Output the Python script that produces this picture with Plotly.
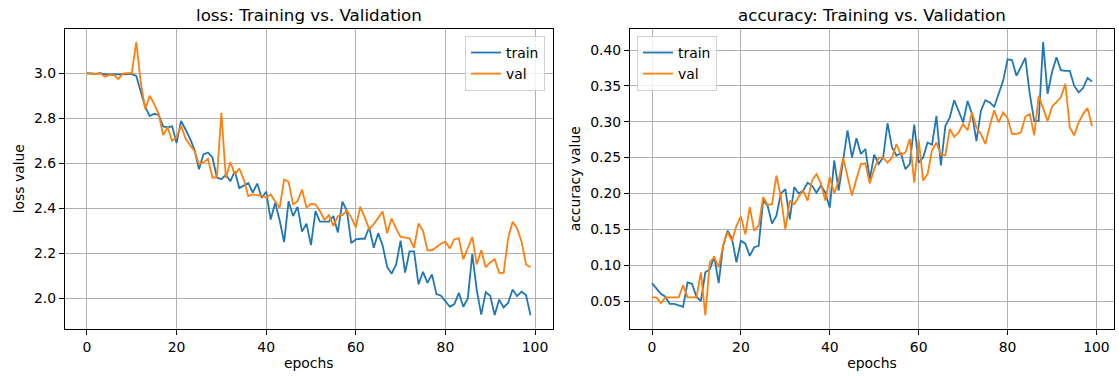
import plotly.graph_objects as go

epochs = list(range(100))

loss_train = [3.0, 2.998, 2.997, 3.0, 2.995, 2.995, 2.994, 2.993, 2.995, 2.996,
              2.996, 2.988, 2.92, 2.85, 2.81, 2.82, 2.815, 2.764, 2.76, 2.764,
              2.69, 2.788, 2.75, 2.71, 2.66, 2.574, 2.64, 2.648, 2.626, 2.537,
              2.53, 2.55, 2.52, 2.565, 2.49, 2.503, 2.513, 2.47, 2.51, 2.447,
              2.474, 2.35, 2.425, 2.347, 2.25, 2.432, 2.366, 2.407, 2.297, 2.332,
              2.237, 2.388, 2.341, 2.341, 2.341, 2.366, 2.293, 2.43, 2.39, 2.246,
              2.262, 2.265, 2.265, 2.316, 2.225, 2.29, 2.235, 2.14, 2.11, 2.151,
              2.257, 2.115, 2.209, 2.209, 2.063, 2.118, 2.069, 2.107, 2.019, 2.012,
              1.985, 1.963, 1.975, 2.025, 1.963, 2.0, 2.198, 2.037, 1.928, 2.028,
              2.012, 1.926, 1.995, 1.96, 1.98, 2.04, 2.01, 2.03, 2.015, 1.925]

loss_val = [3.0, 2.997, 2.997, 3.0, 2.985, 2.993, 2.992, 2.975, 2.998, 3.0,
            3.0, 3.138, 2.96, 2.84, 2.9, 2.863, 2.82, 2.725, 2.76, 2.7,
            2.715, 2.767, 2.71, 2.68, 2.655, 2.596, 2.604, 2.62, 2.537, 2.537,
            2.824, 2.535, 2.606, 2.55, 2.577, 2.528, 2.455, 2.462, 2.46, 2.455,
            2.447, 2.462, 2.432, 2.403, 2.528, 2.518, 2.418, 2.432, 2.484, 2.403,
            2.42, 2.418, 2.388, 2.35, 2.37, 2.322, 2.366, 2.37, 2.39, 2.36,
            2.315, 2.407, 2.36, 2.307, 2.33, 2.36, 2.386, 2.29, 2.355, 2.31,
            2.273, 2.27, 2.267, 2.225, 2.333, 2.3, 2.214, 2.214, 2.23, 2.243,
            2.252, 2.222, 2.263, 2.267, 2.174, 2.22, 2.273, 2.151, 2.214, 2.139,
            2.16, 2.174, 2.114, 2.114, 2.267, 2.341, 2.312, 2.252, 2.151, 2.139]

acc_train = [0.075, 0.067, 0.06, 0.056, 0.046, 0.046, 0.044, 0.042, 0.076, 0.074,
             0.056, 0.05, 0.09, 0.094, 0.112, 0.075, 0.127, 0.148, 0.137, 0.104,
             0.134, 0.13, 0.113, 0.125, 0.127, 0.19, 0.183, 0.158, 0.169, 0.2,
             0.206, 0.164, 0.209, 0.2, 0.204, 0.215, 0.211, 0.201, 0.211, 0.201,
             0.18, 0.246, 0.204, 0.246, 0.288, 0.25, 0.277, 0.255, 0.262, 0.22,
             0.254, 0.241, 0.25, 0.298, 0.264, 0.253, 0.256, 0.234, 0.241, 0.296,
             0.243, 0.25, 0.271, 0.268, 0.308, 0.239, 0.294, 0.306, 0.33, 0.315,
             0.299, 0.329, 0.311, 0.273, 0.315, 0.33, 0.327, 0.321, 0.339, 0.357,
             0.387, 0.386, 0.364, 0.377, 0.389, 0.339, 0.301, 0.301, 0.411, 0.339,
             0.369, 0.39, 0.372, 0.371, 0.371, 0.35, 0.341, 0.347, 0.361, 0.356]

acc_val = [0.055, 0.055, 0.047, 0.055, 0.055, 0.055, 0.055, 0.072, 0.055, 0.055,
           0.055, 0.09, 0.03, 0.104, 0.111, 0.097, 0.127, 0.146, 0.134, 0.155,
           0.168, 0.143, 0.181, 0.148, 0.155, 0.195, 0.184, 0.185, 0.225, 0.195,
           0.15, 0.19, 0.185, 0.195, 0.204, 0.19, 0.218, 0.227, 0.214, 0.19,
           0.223, 0.2, 0.218, 0.25, 0.222, 0.197, 0.22, 0.241, 0.242, 0.214,
           0.234, 0.25, 0.25, 0.243, 0.25, 0.269, 0.254, 0.257, 0.276, 0.215,
           0.275, 0.218, 0.227, 0.26, 0.271, 0.254, 0.253, 0.29, 0.279, 0.285,
           0.297, 0.288, 0.313, 0.292, 0.283, 0.269, 0.294, 0.316, 0.299, 0.313,
           0.305, 0.283, 0.283, 0.285, 0.307, 0.311, 0.281, 0.336, 0.319, 0.301,
           0.321, 0.327, 0.334, 0.353, 0.292, 0.281, 0.299, 0.311, 0.319, 0.294]

x_ticks = [0, 20, 40, 60, 80, 100]
loss_ticks = [2.0, 2.2, 2.4, 2.6, 2.8, 3.0]
acc_ticks = [0.05, 0.10, 0.15, 0.20, 0.25, 0.30, 0.35, 0.40]

BLUE = "#1f77b4"
ORANGE = "#ff7f0e"
FONT = "DejaVu Sans"
W, H = 1119, 376
FS = 13.9
TFS = 16.7


def mpl_range(vals):
    lo, hi = min(vals), max(vals)
    m = (hi - lo) * 0.05
    return [lo - m, hi + m]


fig = go.Figure()
fig.add_trace(go.Scatter(x=epochs, y=loss_train, name="train", mode="lines",
                         line=dict(color=BLUE, width=1.8), xaxis="x", yaxis="y", legend="legend"))
fig.add_trace(go.Scatter(x=epochs, y=loss_val, name="val", mode="lines",
                         line=dict(color=ORANGE, width=1.8), xaxis="x", yaxis="y", legend="legend"))
fig.add_trace(go.Scatter(x=epochs, y=acc_train, name="train", mode="lines",
                         line=dict(color=BLUE, width=1.8), xaxis="x2", yaxis="y2", legend="legend2"))
fig.add_trace(go.Scatter(x=epochs, y=acc_val, name="val", mode="lines",
                         line=dict(color=ORANGE, width=1.8), xaxis="x2", yaxis="y2", legend="legend2"))

xr = mpl_range(epochs)
L_dom = [64.8 / W, 552.7 / W]
R_dom = [630 / W, 1114 / W]
Y_dom = [1 - 329 / H, 1 - 28.5 / H]

axis_common = dict(showline=True, mirror=True, linecolor="black", linewidth=1,
                   ticks="outside", ticklen=5, tickwidth=1, tickcolor="black",
                   showgrid=True, gridcolor="#b0b0b0", gridwidth=0.8, zeroline=False,
                   automargin=False,
                   tickfont=dict(family=FONT, size=FS, color="black"))

fig.update_layout(
    width=W, height=H,
    margin=dict(l=0, r=0, t=0, b=0, pad=0),
    paper_bgcolor="white", plot_bgcolor="white",
    font=dict(family=FONT, color="black"),
    xaxis=dict(domain=L_dom, range=xr, tickvals=x_ticks, anchor="y",
               title=dict(text="epochs", font=dict(family=FONT, size=FS), standoff=4), **axis_common),
    yaxis=dict(domain=Y_dom, range=mpl_range(loss_train + loss_val), tickvals=loss_ticks,
               tickformat=".1f", anchor="x",
               title=dict(text="loss value", font=dict(family=FONT, size=FS), standoff=6), **axis_common),
    xaxis2=dict(domain=R_dom, range=xr, tickvals=x_ticks, anchor="y2",
                title=dict(text="epochs", font=dict(family=FONT, size=FS), standoff=4), **axis_common),
    yaxis2=dict(domain=Y_dom, range=mpl_range(acc_train + acc_val), tickvals=acc_ticks,
                tickformat=".2f", anchor="x2",
                title=dict(text="accuracy value", font=dict(family=FONT, size=FS), standoff=6), **axis_common),
    legend=dict(x=545 / W, y=1 - 36 / H, xanchor="right", yanchor="top",
                bgcolor="rgba(255,255,255,0.8)", bordercolor="#d0d0d0", borderwidth=1,
                font=dict(family=FONT, size=FS)),
    legend2=dict(x=637 / W, y=1 - 36 / H, xanchor="left", yanchor="top",
                 bgcolor="rgba(255,255,255,0.8)", bordercolor="#d0d0d0", borderwidth=1,
                 font=dict(family=FONT, size=FS)),
    annotations=[
        dict(text="loss: Training vs. Validation", x=(L_dom[0] + L_dom[1]) / 2, y=1 - 15 / H,
             xref="paper", yref="paper", xanchor="center", yanchor="middle",
             showarrow=False, font=dict(family=FONT, size=TFS)),
        dict(text="accuracy: Training vs. Validation", x=(R_dom[0] + R_dom[1]) / 2, y=1 - 15 / H,
             xref="paper", yref="paper", xanchor="center", yanchor="middle",
             showarrow=False, font=dict(family=FONT, size=TFS)),
    ],
    showlegend=True,
)

fig.write_html("out.html", config={"displayModeBar": False},
               post_script="document.body.style.margin='0';document.body.style.overflow='hidden';")
